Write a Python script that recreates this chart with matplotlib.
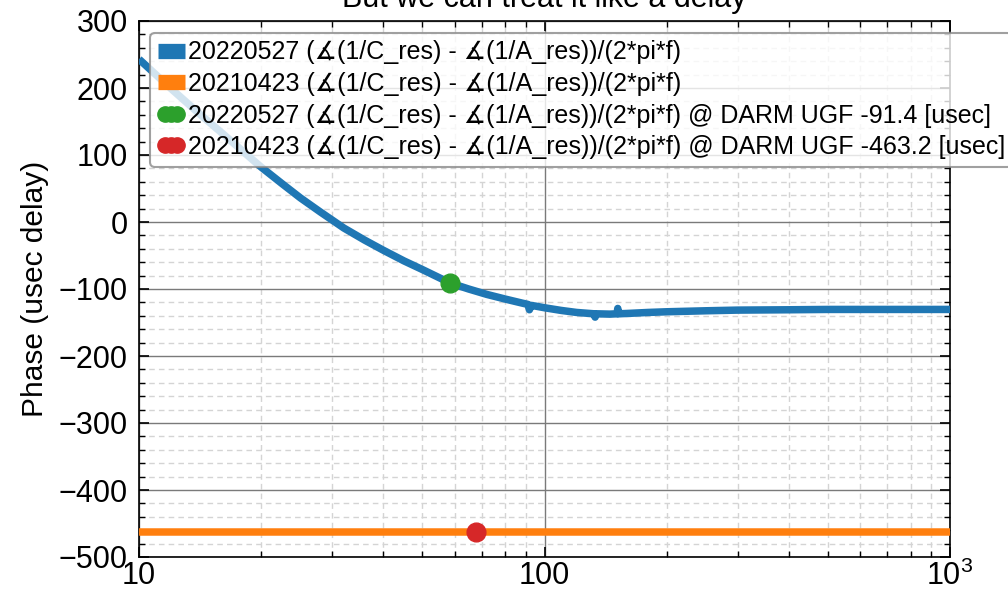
import matplotlib
matplotlib.use("Agg")
import matplotlib.pyplot as plt
from matplotlib.ticker import FixedLocator, FixedFormatter, MultipleLocator, NullFormatter

plt.rcParams['font.family'] = ['Liberation Sans', 'DejaVu Sans']
plt.rcParams['mathtext.fontset'] = 'custom'
plt.rcParams['mathtext.rm'] = 'Liberation Sans'

# ---- data ----
freq_2022 = [10, 12, 14, 16, 18, 20, 22.5, 25, 28, 32, 36, 40, 45, 50, 58.5, 65, 72, 80, 88,
             91.0, 91.8, 92.6, 95, 100, 110, 120, 132.5, 133.3, 134, 145, 151, 151.6, 152.2,
             160, 180, 200, 250, 300, 400, 500, 700, 1000]
delay_2022 = [243, 199, 163, 133, 106, 82, 57.5, 36, 15, -9, -27, -42, -58, -71, -91, -100, -108, -115, -121,
              -123, -131, -124.5, -125.5, -128, -132, -135, -137, -142, -137, -137.5, -137, -129, -137,
              -136.5, -135, -134, -132.5, -131.5, -131, -130.5, -130.5, -130.5]
freq_2021 = [10, 1000]
delay_2021 = [-463.2, -463.2]

ugf_freq = [58.5, 67.8]
ugf_delay = [-91.4, -463.2]

label_base_2022 = "20220527 (\u2221(1/C_res) - \u2221(1/A_res))/(2*pi*f)"
label_base_2021 = "20210423 (\u2221(1/C_res) - \u2221(1/A_res))/(2*pi*f)"

xtick_vals = [10, 100, 1000]
xtick_labels = ['10', '100', '$10^3$']

fig = plt.figure(figsize=(10.08, 5.91), dpi=100)
ax = fig.add_axes([139/1008, 1-557/591, 811/1008, 536/591])

ax.plot(freq_2022, delay_2022, color='#1f77b4', lw=5.4, solid_joinstyle='round',
        solid_capstyle='butt', label=label_base_2022, zorder=3)
ax.plot(freq_2021, delay_2021, color='#ff7f0e', lw=5.4, solid_capstyle='butt',
        label=label_base_2021, zorder=3)
ax.plot([ugf_freq[0]], [ugf_delay[0]], 'o', color='#2ca02c', ms=13.5, zorder=4,
        label=f"{label_base_2022} @ DARM UGF {ugf_delay[0]} [usec]")
ax.plot([ugf_freq[1]], [ugf_delay[1]], 'o', color='#d62728', ms=13.5, zorder=4,
        label=f"{label_base_2021} @ DARM UGF {ugf_delay[1]} [usec]")

ax.set_xscale('log')
ax.set_xlim(10, 1000)
ax.set_ylim(-500, 300)
ax.xaxis.set_major_locator(FixedLocator(xtick_vals))
ax.xaxis.set_major_formatter(FixedFormatter(xtick_labels))
ax.xaxis.set_minor_formatter(NullFormatter())
ax.yaxis.set_major_locator(MultipleLocator(100))
ax.yaxis.set_minor_locator(MultipleLocator(20))

ax.tick_params(which='both', direction='in', top=True, right=True, labelsize=22)
ax.tick_params(which='major', length=7, width=1.2)
ax.tick_params(which='minor', length=4, width=1.0)
ax.tick_params(axis='x', pad=3)
ax.tick_params(axis='y', pad=8)

ax.grid(which='major', color='#7a7a7a', lw=1.0, ls='-', zorder=0)
ax.grid(which='minor', color='#d4d4d4', lw=1.0, ls=(0, (4, 3)), zorder=0)
ax.set_axisbelow(True)
for s in ax.spines.values():
    s.set_linewidth(1.2)

ax.set_ylabel('Phase (usec delay)', fontsize=21.5, labelpad=7)
ax.set_title('But we can treat it like a delay', fontsize=22, pad=10)

leg_fs = 18
leg = ax.legend(loc='upper left', bbox_to_anchor=(150/1008, 1-33/591),
                bbox_transform=fig.transFigure, borderaxespad=0, fontsize=leg_fs,
                handlelength=1.08, handletextpad=0.12, numpoints=3, labelspacing=0.3,
                borderpad=0.3, framealpha=0.8, edgecolor='#888888', fancybox=True)
for line in leg.get_lines():
    if line.get_linestyle() != 'None':
        xd = line.get_xdata()
        pad = 0.3 * leg_fs
        line.set_xdata([xd[0] - pad, xd[-1] + pad])
        line.set_ydata([line.get_ydata()[0]] * 2)
        line.set_linewidth(11)
        line.set_solid_capstyle('butt')
    else:
        line.set_markersize(11)
leg.get_frame().set_linewidth(1.5)

fig.savefig('out.png', dpi=100)
